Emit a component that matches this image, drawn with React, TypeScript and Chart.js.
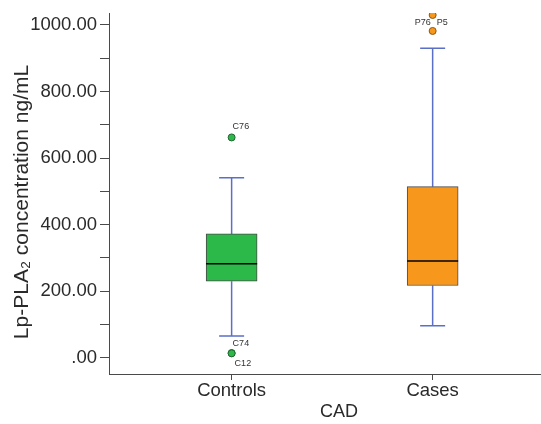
import React, { useEffect, useRef } from "react";
import { Chart, registerables } from "chart.js";

Chart.register(...registerables);

// ---- data ----
const categories = ["Controls", "Cases"];
const whiskerLow = [65, 96];
const q1 = [230, 217];
const median = [282, 291];
const q3 = [372, 514];
const whiskerHigh = [541, 930];

const outlierGroup = [0, 0, 0, 1, 1];
const outlierValue = [662, 14, 13, 1030, 982];
const outlierLabel = ["C76", "C74", "C12", "P5", "P76"];

const yTickValues = [0, 100, 200, 300, 400, 500, 600, 700, 800, 900, 1000];
const yAxisTitle = "Lp-PLA₂ concentration ng/mL";
const xAxisTitle = "CAD";

// ---- styles ----
const FONT = '"Liberation Sans", Arial, Helvetica, sans-serif';
const TEXT = "#2a2a2a";
const AXIS = "#4a4a4a";
const boxColors = ["#2db84a", "#f7981d"];
const dotBorders = ["#1c6b2e", "#8c5710"];
const WHISKER = "#5b6fc6";
// label placement for each outlier: [dx, dy, align]
const labelPlacement: [number, number, CanvasTextAlign][] = [
  [1, -10.5, "left"],
  [1, -10, "left"],
  [3, 10, "left"],
  [4, 8, "left"],
  [-2, -8, "right"],
];

const boxPartsPlugin = {
  id: "boxParts",
  beforeDatasetsDraw(chart: any) {
    const { ctx, scales } = chart;
    const x = scales.x;
    const y = scales.y;
    ctx.save();
    ctx.strokeStyle = WHISKER;
    ctx.lineWidth = 1.5;
    categories.forEach((_, i) => {
      const cx = x.getPixelForValue(i);
      const capHalf = 12.5;
      ctx.beginPath();
      ctx.moveTo(cx, y.getPixelForValue(q3[i]));
      ctx.lineTo(cx, y.getPixelForValue(whiskerHigh[i]));
      ctx.moveTo(cx, y.getPixelForValue(q1[i]));
      ctx.lineTo(cx, y.getPixelForValue(whiskerLow[i]));
      ctx.stroke();
      ctx.beginPath();
      const yh = y.getPixelForValue(whiskerHigh[i]);
      const yl = y.getPixelForValue(whiskerLow[i]);
      ctx.moveTo(cx - capHalf, yh);
      ctx.lineTo(cx + capHalf, yh);
      ctx.moveTo(cx - capHalf, yl);
      ctx.lineTo(cx + capHalf, yl);
      ctx.stroke();
    });
    ctx.restore();
  },
  afterDatasetsDraw(chart: any) {
    const { ctx, scales } = chart;
    const x = scales.x;
    const y = scales.y;
    const meta = chart.getDatasetMeta(0);
    ctx.save();
    ctx.strokeStyle = "#000";
    ctx.lineWidth = 1.5;
    categories.forEach((_, i) => {
      const el = meta.data[i];
      const half = el.width / 2;
      const cx = x.getPixelForValue(i);
      const ym = y.getPixelForValue(median[i]);
      ctx.beginPath();
      ctx.moveTo(cx - half, ym);
      ctx.lineTo(cx + half, ym);
      ctx.stroke();
    });
    ctx.fillStyle = "#333";
    ctx.font = `9px ${FONT}`;
    ctx.textBaseline = "middle";
    outlierLabel.forEach((lab, k) => {
      const px = x.getPixelForValue(outlierGroup[k]);
      const py = y.getPixelForValue(outlierValue[k]);
      const [dx, dy, align] = labelPlacement[k];
      ctx.textAlign = align;
      ctx.fillText(lab, px + dx, py + dy);
    });
    ctx.restore();
  },
  afterDraw(chart: any) {
    const { ctx } = chart;
    ctx.save();
    ctx.fillStyle = TEXT;
    ctx.textAlign = "center";
    ctx.textBaseline = "middle";
    // x-axis title (sits a little right of the plot centre in the reference)
    ctx.font = `18px ${FONT}`;
    ctx.fillText(xAxisTitle, 339, 412);
    // y-axis title, centred slightly below the plot centre as in the reference
    ctx.font = `21px ${FONT}`;
    ctx.translate(22.5, 202);
    ctx.rotate(-Math.PI / 2);
    ctx.fillText(yAxisTitle, 0, 0);
    ctx.restore();
  },
};

export default function App() {
  const ref = useRef<HTMLCanvasElement | null>(null);

  useEffect(() => {
    if (!ref.current) return;
    const chart = new Chart(ref.current, {
      type: "bar",
      data: {
        datasets: [
          {
            type: "bar",
            data: categories.map((_, i) => ({ x: i, y: [q1[i], q3[i]] })) as any,
            backgroundColor: boxColors,
            borderColor: "#4a4a4a",
            borderWidth: 1,
            borderSkipped: false,
            barThickness: 51,
          } as any,
          {
            type: "scatter",
            data: outlierValue.map((v, k) => ({ x: outlierGroup[k], y: v })),
            backgroundColor: outlierGroup.map((g) => boxColors[g]),
            borderColor: outlierGroup.map((g) => dotBorders[g]),
            borderWidth: 1,
            pointRadius: 3.5,
          } as any,
        ],
      },
      options: {
        animation: false,
        responsive: false,
        layout: { autoPadding: false, padding: { top: 13, right: 0, bottom: 0, left: 0 } },
        plugins: {
          legend: { display: false },
          tooltip: { enabled: false },
        },
        scales: {
          x: {
            type: "linear",
            offset: false,
            min: -0.61,
            max: 1.539,
            afterBuildTicks: (scale: any) => {
              scale.ticks = categories.map((_, i) => ({ value: i }));
            },
            afterFit: (scale: any) => {
              scale.height = 50;
              scale.paddingLeft = 0;
              scale.paddingRight = 0;
            },
            grid: {
              offset: false,
              drawOnChartArea: false,
              drawTicks: true,
              tickLength: 6,
              color: AXIS,
            },
            border: { display: true, color: AXIS, width: 1 },
            ticks: {
              padding: 0,
              color: TEXT,
              font: { family: FONT, size: 18.5, lineHeight: 1.2 },
              callback: (v: any) => categories[v] ?? "",
              maxRotation: 0,
            },
            title: { display: false },
          },
          y: {
            type: "linear",
            min: -49,
            max: 1036,
            afterBuildTicks: (scale: any) => {
              scale.ticks = yTickValues.map((v) => ({ value: v }));
            },
            afterFit: (scale: any) => {
              scale.width = 109;
              scale.paddingTop = 0;
              scale.paddingBottom = 0;
            },
            grid: {
              drawOnChartArea: false,
              drawTicks: true,
              tickLength: 9,
              color: AXIS,
            },
            border: { display: true, color: AXIS, width: 1 },
            ticks: {
              padding: 3,
              color: TEXT,
              font: { family: FONT, size: 18.5, lineHeight: 1 },
              callback: (v: any) =>
                v % 200 === 0 ? (v === 0 ? ".00" : Number(v).toFixed(2)) : "",
            },
            title: { display: false },
          },
        },
      },
      plugins: [boxPartsPlugin],
    } as any);
    return () => chart.destroy();
  }, []);

  return (
    <canvas
      ref={ref}
      width={541}
      height={424}
      style={{ position: "fixed", left: 0, top: 0, display: "block", background: "#fff" }}
    />
  );
}
